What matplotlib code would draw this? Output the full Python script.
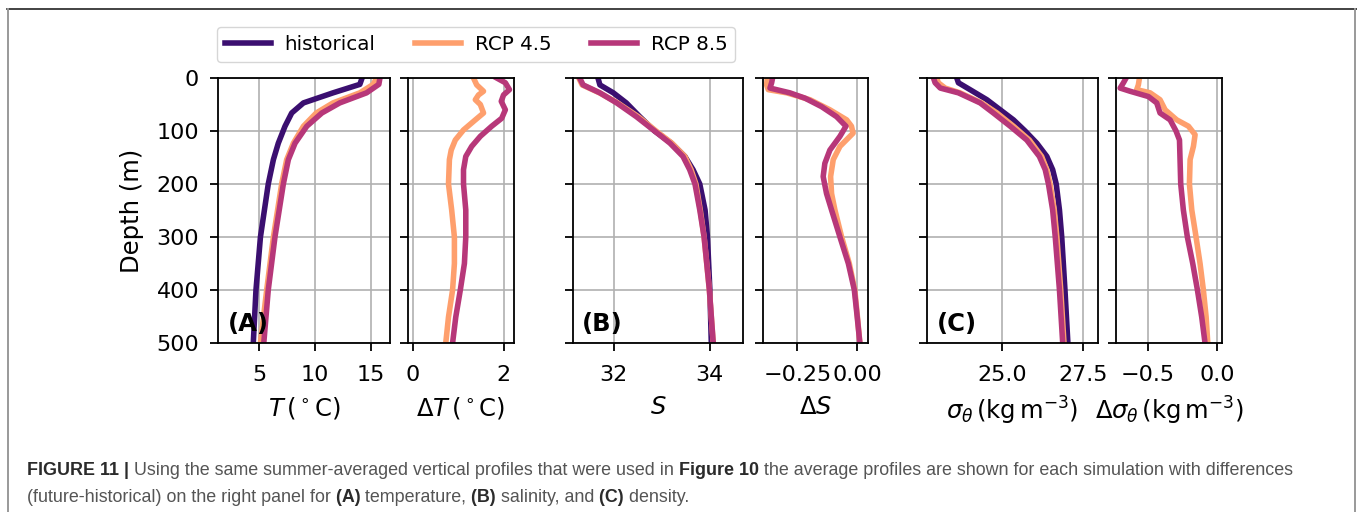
import matplotlib
matplotlib.use('Agg')
import matplotlib.pyplot as plt
from matplotlib.lines import Line2D

# --- data (depth in m) ---
depth_T = [0, 12, 28, 47, 66, 91, 123, 154, 200, 300, 400, 500]
hist_T = [14.2, 14.0, 11.6, 8.95, 7.9, 7.3, 6.7, 6.26, 5.8, 5.1, 4.7, 4.46]
rcp45_T = [15.5, 15.2, 14.0, 11.6, 10.1, 8.95, 8.05, 7.45, 7.0, 6.26, 5.66, 5.1]
rcp85_T = [15.8, 15.7, 14.6, 12.2, 10.6, 9.25, 8.2, 7.6, 7.15, 6.4, 5.8, 5.4]

depth_dT45 = [0, 13, 25, 32, 41, 50, 66, 79, 98, 117, 136, 154, 200, 249, 300, 350, 400, 451, 500]
rcp45_dT = [1.34, 1.41, 1.56, 1.45, 1.38, 1.49, 1.56, 1.38, 1.12, 0.94, 0.85, 0.81, 0.79, 0.86, 0.92, 0.92, 0.88, 0.79, 0.73]
depth_dT85 = [0, 9, 22, 32, 44, 60, 76, 91, 110, 129, 148, 173, 200, 249, 300, 350, 400, 451, 500]
rcp85_dT = [1.85, 2.04, 2.13, 2.0, 1.95, 2.04, 1.96, 1.74, 1.49, 1.30, 1.17, 1.12, 1.12, 1.17, 1.17, 1.14, 1.05, 0.95, 0.88]

depth_S = [0, 13, 28, 47, 73, 100, 123, 148, 173, 200, 249, 300, 400, 500]
hist_S = [31.67, 31.71, 31.99, 32.26, 32.54, 32.85, 33.2, 33.48, 33.65, 33.79, 33.9, 33.95, 34.0, 34.03]
rcp45_S = [31.27, 31.34, 31.70, 32.08, 32.51, 32.88, 33.21, 33.48, 33.61, 33.71, 33.8, 33.88, 33.99, 34.07]
rcp85_S = [31.29, 31.36, 31.71, 32.06, 32.47, 32.85, 33.17, 33.44, 33.58, 33.69, 33.79, 33.88, 33.99, 34.07]

depth_dS45 = [0, 13, 22, 28, 41, 60, 79, 91, 104, 129, 154, 186, 218, 249, 300, 350, 400, 451, 500]
rcp45_dS = [-0.375, -0.378, -0.371, -0.294, -0.197, -0.114, -0.044, -0.024, -0.017, -0.072, -0.1, -0.111, -0.107, -0.093, -0.065, -0.033, -0.01, 0.001, 0.011]
depth_dS85 = [0, 9, 19, 28, 38, 54, 73, 91, 110, 136, 161, 186, 218, 249, 300, 350, 400, 451, 500]
rcp85_dS = [-0.353, -0.357, -0.364, -0.281, -0.218, -0.149, -0.086, -0.047, -0.072, -0.114, -0.135, -0.142, -0.128, -0.107, -0.072, -0.037, -0.012, 0.0, 0.011]

depth_sig_h = [0, 9, 22, 41, 60, 79, 100, 123, 148, 173, 200, 249, 300, 400, 500]
hist_sig = [23.61, 23.66, 24.02, 24.54, 24.95, 25.36, 25.72, 26.08, 26.39, 26.57, 26.68, 26.78, 26.85, 26.95, 27.04]
depth_sig = [0, 9, 19, 28, 47, 66, 91, 117, 148, 173, 200, 249, 300, 400, 500]
rcp45_sig = [22.99, 23.04, 23.25, 23.71, 24.38, 24.85, 25.36, 25.85, 26.23, 26.39, 26.49, 26.62, 26.7, 26.82, 26.92]
rcp85_sig = [22.89, 22.94, 23.1, 23.66, 24.33, 24.74, 25.26, 25.77, 26.16, 26.34, 26.44, 26.57, 26.65, 26.78, 26.88]

depth_dsig45 = [0, 13, 22, 28, 41, 60, 79, 91, 107, 129, 154, 200, 249, 300, 350, 400, 451, 500]
rcp45_dsig = [-0.56, -0.568, -0.58, -0.483, -0.411, -0.374, -0.29, -0.205, -0.157, -0.169, -0.193, -0.198, -0.181, -0.15, -0.121, -0.097, -0.077, -0.065]
depth_dsig85 = [0, 9, 19, 25, 35, 47, 66, 79, 100, 117, 154, 200, 249, 300, 350, 400, 451, 500]
rcp85_dsig = [-0.657, -0.676, -0.70, -0.628, -0.495, -0.435, -0.411, -0.338, -0.295, -0.27, -0.266, -0.261, -0.242, -0.213, -0.174, -0.14, -0.109, -0.085]

names = ['historical', 'RCP 4.5', 'RCP 8.5']
colors = ['#3b0f70', '#fe9f6d', '#b73779']

plt.rcParams['axes.linewidth'] = 1.3
plt.rcParams['xtick.major.width'] = 1.3
plt.rcParams['ytick.major.width'] = 1.3
plt.rcParams['xtick.major.size'] = 6
plt.rcParams['ytick.major.size'] = 6
plt.rcParams['xtick.major.pad'] = 10
plt.rcParams['ytick.major.pad'] = 7.5
plt.rcParams['xtick.labelsize'] = 16
plt.rcParams['ytick.labelsize'] = 16

W, H = 1357, 512
fig = plt.figure(figsize=(W / 100, H / 100), dpi=100)

# panel left / right edges in pixels
edges = [(218, 390), (408, 514), (573, 743), (763, 868), (927, 1098), (1116, 1222)]
top, bot = 78, 343
axs = []
for l, r in edges:
    ax = fig.add_axes([l / W, 1 - bot / H, (r - l) / W, (bot - top) / H])
    ax.set_ylim(500, 0)
    ax.set_yticks([0, 100, 200, 300, 400, 500])
    ax.grid(True, color='#b0b0b0', lw=1.2)
    ax.set_axisbelow(True)
    axs.append(ax)

lw = 4.0
lab_fs = 17.5
a = axs[0]
a.plot(hist_T, depth_T, color=colors[0], lw=lw)
a.plot(rcp45_T, depth_T, color=colors[1], lw=lw)
a.plot(rcp85_T, depth_T, color=colors[2], lw=lw)
a.set_xlim(1.3, 16.7)
a.set_xticks([5, 10, 15])
a.set_xlabel(r'$T\,(^\circ\mathrm{C})$', fontsize=lab_fs, labelpad=7)
a.set_ylabel('Depth (m)', fontsize=lab_fs, labelpad=9)

a = axs[1]
a.plot(rcp45_dT, depth_dT45, color=colors[1], lw=lw)
a.plot(rcp85_dT, depth_dT85, color=colors[2], lw=lw)
a.set_xlim(-0.1, 2.23)
a.set_xticks([0, 2])
a.set_xlabel(r'$\Delta T\,(^\circ\mathrm{C})$', fontsize=lab_fs, labelpad=7)

a = axs[2]
a.plot(hist_S, depth_S, color=colors[0], lw=lw)
a.plot(rcp45_S, depth_S, color=colors[1], lw=lw)
a.plot(rcp85_S, depth_S, color=colors[2], lw=lw)
a.set_xlim(31.15, 34.69)
a.set_xticks([32, 34])
a.set_xlabel(r'$S$', fontsize=lab_fs, labelpad=7)

a = axs[3]
a.plot(rcp45_dS, depth_dS45, color=colors[1], lw=lw)
a.plot(rcp85_dS, depth_dS85, color=colors[2], lw=lw)
a.set_xlim(-0.393, 0.045)
a.set_xticks([-0.25, 0.0])
a.set_xticklabels(['\u22120.25', '0.00'])
a.set_xlabel(r'$\Delta S$', fontsize=lab_fs, labelpad=7)

a = axs[4]
a.plot(hist_sig, depth_sig_h, color=colors[0], lw=lw)
a.plot(rcp45_sig, depth_sig, color=colors[1], lw=lw)
a.plot(rcp85_sig, depth_sig, color=colors[2], lw=lw)
a.set_xlim(22.69, 27.97)
a.set_xticks([25.0, 27.5])
a.set_xticklabels(['25.0', '27.5'])
a.set_xlabel(r'$\sigma_\theta\,(\mathrm{kg\,m^{-3}})$', fontsize=lab_fs, labelpad=7)

a = axs[5]
a.plot(rcp45_dsig, depth_dsig45, color=colors[1], lw=lw)
a.plot(rcp85_dsig, depth_dsig85, color=colors[2], lw=lw)
a.set_xlim(-0.73, 0.038)
a.set_xticks([-0.5, 0.0])
a.set_xticklabels(['\u22120.5', '0.0'])
a.set_xlabel(r'$\Delta\sigma_\theta\,(\mathrm{kg\,m^{-3}})$', fontsize=lab_fs, labelpad=7)

for ax in axs[1:]:
    ax.set_yticklabels([])

for ax, lab in zip([axs[0], axs[2], axs[4]], ['(A)', '(B)', '(C)']):
    ax.text(0.055, 0.025, lab, transform=ax.transAxes, fontsize=17.5,
            fontweight='bold', ha='left', va='bottom')

handles = [Line2D([], [], color=c, lw=lw) for c in colors]
fig.legend(handles, names, loc='upper left', bbox_to_anchor=(217 / W, 1 - 27 / H),
           ncol=3, borderaxespad=0, fontsize=14.3, handlelength=2.3,
           handletextpad=0.7, columnspacing=2.0, borderpad=0.4)

# frame of the figure box
fig.add_artist(Line2D([7 / W, 1], [1 - 9 / H, 1 - 9 / H], color='#222222', lw=1.2))
fig.add_artist(Line2D([7.5 / W, 7.5 / W], [0, 1 - 9 / H], color='#999999', lw=1.4))
fig.add_artist(Line2D([1355 / W, 1355 / W], [0, 1 - 9 / H], color='#999999', lw=1.4))

# caption with bold pieces
line1 = [('FIGURE 11 |', 'bold'),
         (' Using the same summer-averaged vertical profiles that were used in', 'normal'),
         (' Figure 10', 'bold'),
         (' the average profiles are shown for each simulation with differences', 'normal')]
line2 = [('(future-historical) on the right panel for', 'normal'),
         (' (A)', 'bold'), (' temperature,', 'normal'),
         (' (B)', 'bold'), (' salinity, and', 'normal'),
         (' (C)', 'bold'), (' density.', 'normal')]

renderer = fig.canvas.get_renderer()


def caption_line(y, parts):
    x = 27 / W
    for s, w in parts:
        col = '#2b2b2b' if w == 'bold' else '#555555'
        t = fig.text(x, y, s, fontsize=12.9, fontweight=w, color=col,
                     family='Liberation Sans', va='baseline', ha='left')
        bb = t.get_window_extent(renderer=renderer)
        x += bb.width / W


caption_line(1 - 475 / H, line1)
caption_line(1 - 502 / H, line2)

fig.savefig('out.png', dpi=100)
